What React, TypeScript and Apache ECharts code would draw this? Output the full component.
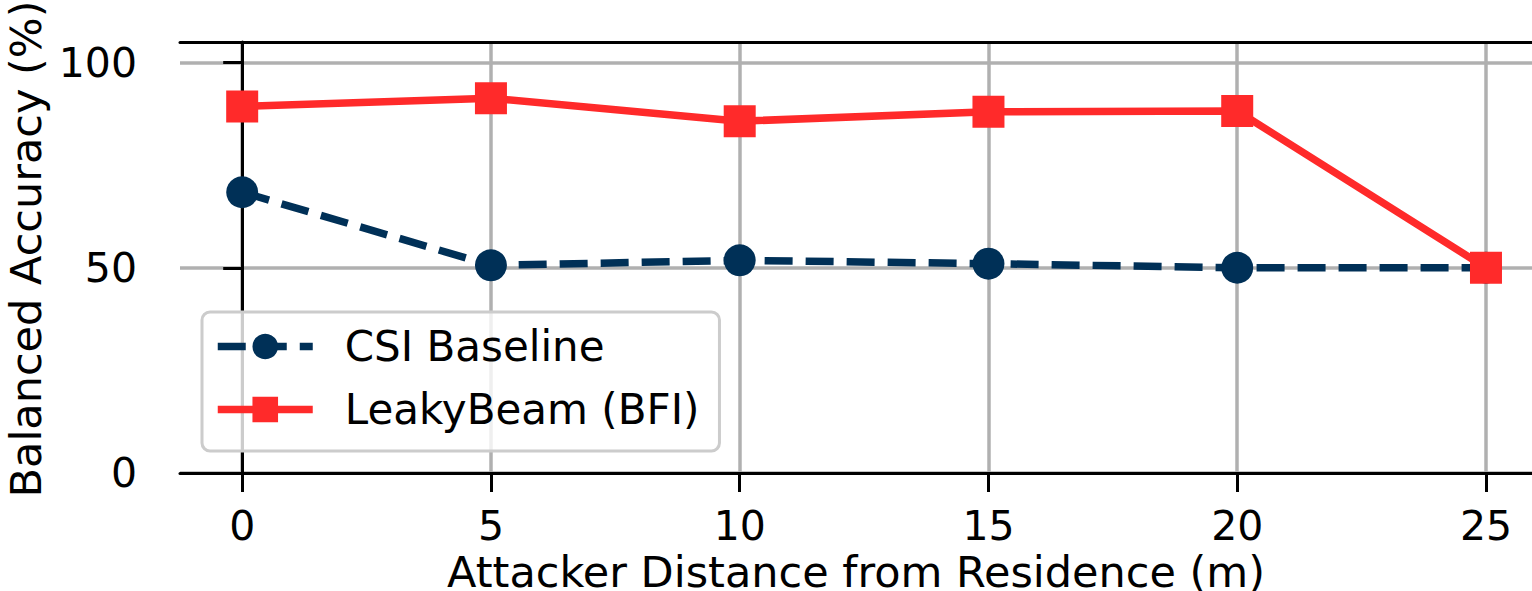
import React, { useEffect, useRef } from "react";
import * as echarts from "echarts";

const distances = [0, 5, 10, 15, 20, 25];
const csiBaseline = [68.4, 50.6, 51.8, 51.0, 50.0, 50.0];
const leakyBeam = [89.3, 91.3, 85.7, 88.0, 88.2, 50.0];
const xTicks = [0, 5, 10, 15, 20, 25];
const yTicks = [0, 50, 100];

const FONT = "DejaVu Sans";
const NAVY = "#003057";
const RED = "#FF2A2A";

export default function App() {
  const ref = useRef<HTMLDivElement>(null);
  useEffect(() => {
    if (!ref.current) return;
    const chart = echarts.init(ref.current, null, { renderer: "svg" });
    const axisLine = { show: true, lineStyle: { color: "#000", width: 3 } };
    const split = { show: true, lineStyle: { color: "#b0b0b0", width: 3.5 } };
    chart.setOption({
      animation: false,
      backgroundColor: "#fff",
      textStyle: { fontFamily: FONT },
      grid: {
        left: 180,
        top: 42,
        width: 1352,
        height: 431,
        containLabel: false,
        outerBoundsMode: "none",
      },
      legend: {
        orient: "vertical",
        left: 202,
        top: 312,
        itemWidth: 95,
        itemHeight: 32,
        itemGap: 20,
        padding: [13, 20, 20, 12],
        backgroundColor: "rgba(255,255,255,0.8)",
        borderColor: "#cccccc",
        borderWidth: 3,
        borderRadius: 8,
        lineStyle: { width: 7.5 },
        textStyle: {
          fontFamily: FONT,
          fontSize: 42,
          color: "#000",
          lineHeight: 43,
          padding: [0, 0, 0, 27],
        },
        data: ["CSI Baseline", "LeakyBeam (BFI)"],
      },
      xAxis: [
        {
          type: "value",
          position: "bottom",
          min: -1.25,
          max: 25.925,
          axisLine,
          axisTick: {
            show: true,
            customValues: xTicks,
            length: 19,
            lineStyle: { color: "#000", width: 3 },
          },
          axisLabel: {
            customValues: xTicks,
            fontSize: 41,
            color: "#000",
            fontFamily: FONT,
            margin: 32,
          },
          splitLine: split,
          name: "Attacker Distance from Residence (m)",
          nameLocation: "middle",
          nameGap: 76,
          nameTextStyle: {
            fontSize: 43,
            color: "#000",
            fontFamily: FONT,
          },
        },
        {
          type: "value",
          position: "top",
          min: -1.25,
          max: 25.925,
          axisLine,
          axisTick: { show: false },
          axisLabel: { show: false },
          splitLine: { show: false },
        },
      ],
      yAxis: {
        type: "value",
        min: 0,
        max: 105,
        axisLine,
        axisTick: {
          show: true,
          customValues: yTicks,
          length: 19,
          lineStyle: { color: "#000", width: 3 },
        },
        axisLabel: {
          customValues: yTicks,
          fontSize: 41,
          color: "#000",
          fontFamily: FONT,
          margin: 43,
        },
        splitLine: split,
        name: "Balanced Accuracy (%)",
        nameLocation: "middle",
        nameRotate: 90,
        nameGap: 117,
        nameTextStyle: {
          fontSize: 43,
          color: "#000",
          fontFamily: FONT,
          padding: [0, 0, 0, 17],
        },
      },
      series: [
        {
          name: "CSI Baseline",
          type: "line",
          data: distances.map((d, i) => [d, csiBaseline[i]]),
          symbol: "circle",
          symbolSize: 32,
          itemStyle: { color: NAVY },
          lineStyle: { color: NAVY, width: 7.5, type: [28, 13] },
          z: 3,
        },
        {
          name: "LeakyBeam (BFI)",
          type: "line",
          data: distances.map((d, i) => [d, leakyBeam[i]]),
          symbol: "rect",
          symbolSize: 32,
          itemStyle: { color: RED },
          lineStyle: { color: RED, width: 7.5 },
          z: 4,
        },
      ],
    });
    return () => chart.dispose();
  }, []);
  return (
    <div
      ref={ref}
      style={{ position: "absolute", left: 0, top: 0, width: 1532, height: 591 }}
    />
  );
}
